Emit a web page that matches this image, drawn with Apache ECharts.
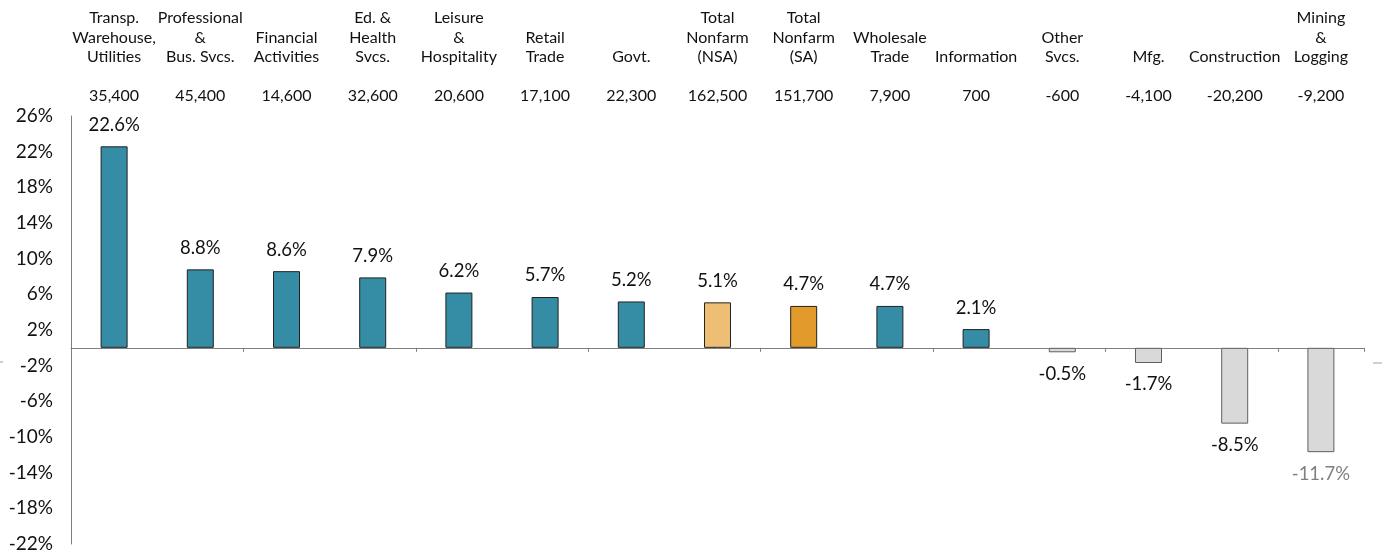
<!DOCTYPE html>
<html>
<head>
<meta charset="utf-8">
<script src="https://cdn.jsdelivr.net/npm/echarts@6/dist/echarts.min.js"></script>
<style>
  html, body { margin: 0; padding: 0; background: #fff; }
  #main { width: 1387px; height: 556px; }
</style>
</head>
<body>
<div id="main"></div>
<script>
// categories (top labels), job change counts and percent change
var categories = [
  'Transp.\nWarehouse,\nUtilities', 'Professional\n&\nBus. Svcs.', 'Financial\nActivities',
  'Ed. &\nHealth\nSvcs.', 'Leisure\n&\nHospitality', 'Retail\nTrade', 'Govt.',
  'Total\nNonfarm\n(NSA)', 'Total\nNonfarm\n(SA)', 'Wholesale\nTrade', 'Information',
  'Other\nSvcs.', 'Mfg.', 'Construction', 'Mining\n&\nLogging'
];
var jobChange = [35400, 45400, 14600, 32600, 20600, 17100, 22300, 162500, 151700, 7900, 700, -600, -4100, -20200, -9200];
var pctChange = [22.6, 8.8, 8.6, 7.9, 6.2, 5.7, 5.2, 5.1, 4.7, 4.7, 2.1, -0.5, -1.7, -8.5, -11.7];
var yTicks = [-22, -18, -14, -10, -6, -2, 2, 6, 10, 14, 18, 22, 26];

var FONT = 'Lato';

var chart = echarts.init(document.getElementById('main'));

function barColor(i) {
  var name = categories[i];
  if (name.indexOf('(NSA)') >= 0) return '#EDBE74';
  if (name.indexOf('(SA)') >= 0) return '#E29B2A';
  if (pctChange[i] < 0) return '#D9D9D9';
  return '#358CA5';
}

var barData = pctChange.map(function (v, i) {
  var neg = v < 0;
  return {
    value: v,
    itemStyle: {
      color: barColor(i),
      borderColor: neg ? '#606060' : '#222',
      borderWidth: 1
    },
    label: {
      position: neg ? 'bottom' : 'top',
      color: (i === pctChange.length - 1) ? '#808080' : '#111'
    }
  };
});

var option = {
  animation: false,
  grid: { left: 71, right: 23, top: 116, bottom: 12 },
  // two stray dash marks left over at the zero line level
  graphic: [
    { type: 'line', shape: { x1: 0, y1: 362, x2: 3, y2: 362 }, style: { stroke: '#a0a0a0', lineWidth: 1 } },
    { type: 'line', shape: { x1: 1373, y1: 363, x2: 1382, y2: 363 }, style: { stroke: '#a0a0a0', lineWidth: 1 } }
  ],
  xAxis: [
    {
      type: 'category',
      data: categories,
      axisLine: { onZero: true, lineStyle: { color: '#7f7f7f', width: 1 } },
      axisTick: { show: true, length: 4, lineStyle: { color: '#7f7f7f' } },
      axisLabel: { show: false },
      splitLine: { show: false }
    },
    {
      type: 'category',
      position: 'top',
      data: categories,
      axisLine: { show: false, onZero: false },
      axisTick: { show: false },
      axisLabel: {
        interval: 0,
        margin: 10,
        fontFamily: FONT,
        fontSize: 16,
        lineHeight: 19.5,
        color: '#111',
        align: 'center',
        formatter: function (val, idx) {
          return val + '\n\n' + jobChange[idx].toLocaleString('en-US');
        }
      }
    }
  ],
  yAxis: {
    type: 'value',
    min: -22,
    max: 26,
    axisLine: { show: true, lineStyle: { color: '#7f7f7f', width: 1 } },
    axisTick: { show: false },
    splitLine: { show: false },
    axisLabel: {
      customValues: yTicks,
      margin: 18,
      fontFamily: FONT,
      fontSize: 19,
      color: '#111',
      formatter: function (v) { return v + '%'; }
    }
  },
  series: [
    {
      type: 'bar',
      xAxisIndex: 0,
      barWidth: 27,
      data: barData,
      label: {
        show: true,
        distance: 12,
        fontFamily: FONT,
        fontSize: 18.5,
        formatter: function (p) { return p.value.toFixed(1) + '%'; }
      }
    }
  ]
};

chart.setOption(option);
</script>
</body>
</html>
